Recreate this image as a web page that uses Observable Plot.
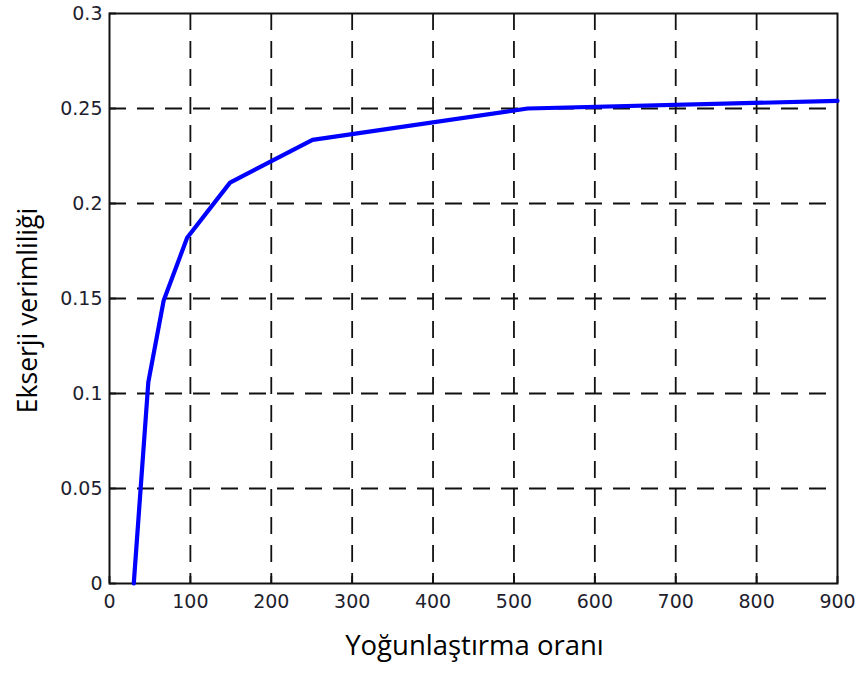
<!DOCTYPE html>
<html>
<head>
<meta charset="utf-8">
<script src="https://cdn.jsdelivr.net/npm/d3@7"></script>
<script src="https://cdn.jsdelivr.net/npm/@observablehq/plot@0.6"></script>
<style>
  html, body { margin: 0; padding: 0; background: #fff; }
</style>
</head>
<body>
<div id="chart"></div>
<script>
const ratio = [30, 48, 67, 96, 149, 251, 517, 900];
const efficiency = [0, 0.106, 0.149, 0.182, 0.211, 0.2335, 0.25, 0.254];
const xTicks = [0, 100, 200, 300, 400, 500, 600, 700, 800, 900];
const yTicks = [0, 0.05, 0.1, 0.15, 0.2, 0.25, 0.3];
const yTickLabels = ["0", "0.05", "0.1", "0.15", "0.2", "0.25", "0.3"];
const xLabel = "Yoğunlaştırma oranı";
const yLabel = "Ekserji verimliliği";

const data = ratio.map((r, i) => ({r, e: efficiency[i]}));

const tickFont = "DejaVu Sans, sans-serif";
const labelFont = "'Open Sans', sans-serif";

const chart = Plot.plot({
  width: 859,
  height: 673,
  marginLeft: 109,
  marginRight: 22,
  marginTop: 13,
  marginBottom: 90,
  style: {background: "#fff", fontFamily: tickFont, fontSize: "19px"},
  x: {domain: [0, 900]},
  y: {domain: [0, 0.3]},
  marks: [
    Plot.ruleX(xTicks.slice(1, -1), {x: d => d, stroke: "#111", strokeWidth: 1.8, strokeDasharray: "17,11"}),
    Plot.ruleY(yTicks.slice(1, -1), {y: d => d, stroke: "#111", strokeWidth: 1.8, strokeDasharray: "17,11"}),
    Plot.axisX({ticks: xTicks, tickSize: -7, tickPadding: 18, label: null, fontSize: 19, fill: "#1e1e2e", stroke: "#111", strokeWidth: 1.8, tickFormat: d => String(d)}),
    Plot.axisY({ticks: yTicks, tickSize: -7, tickPadding: 14, label: null, fontSize: 19, fill: "#1e1e2e", stroke: "#111", strokeWidth: 1.8, tickFormat: d => yTickLabels[yTicks.indexOf(d)]}),
    Plot.frame({stroke: "#111", strokeWidth: 2}),
    Plot.line(data, {x: "r", y: "e", stroke: "#0000ff", strokeWidth: 4.2, strokeLinejoin: "round"}),
    Plot.text([xLabel], {text: d => d, frameAnchor: "bottom", dy: 71, dx: 1, fontSize: 27.5, fontFamily: labelFont, fill: "#000"}),
    Plot.text([yLabel], {text: d => d, frameAnchor: "left", textAnchor: "middle", rotate: -90, dx: -81, dy: 12, fontSize: 26.5, fontFamily: labelFont, fill: "#000"})
  ]
});
document.getElementById("chart").appendChild(chart);
</script>
</body>
</html>
